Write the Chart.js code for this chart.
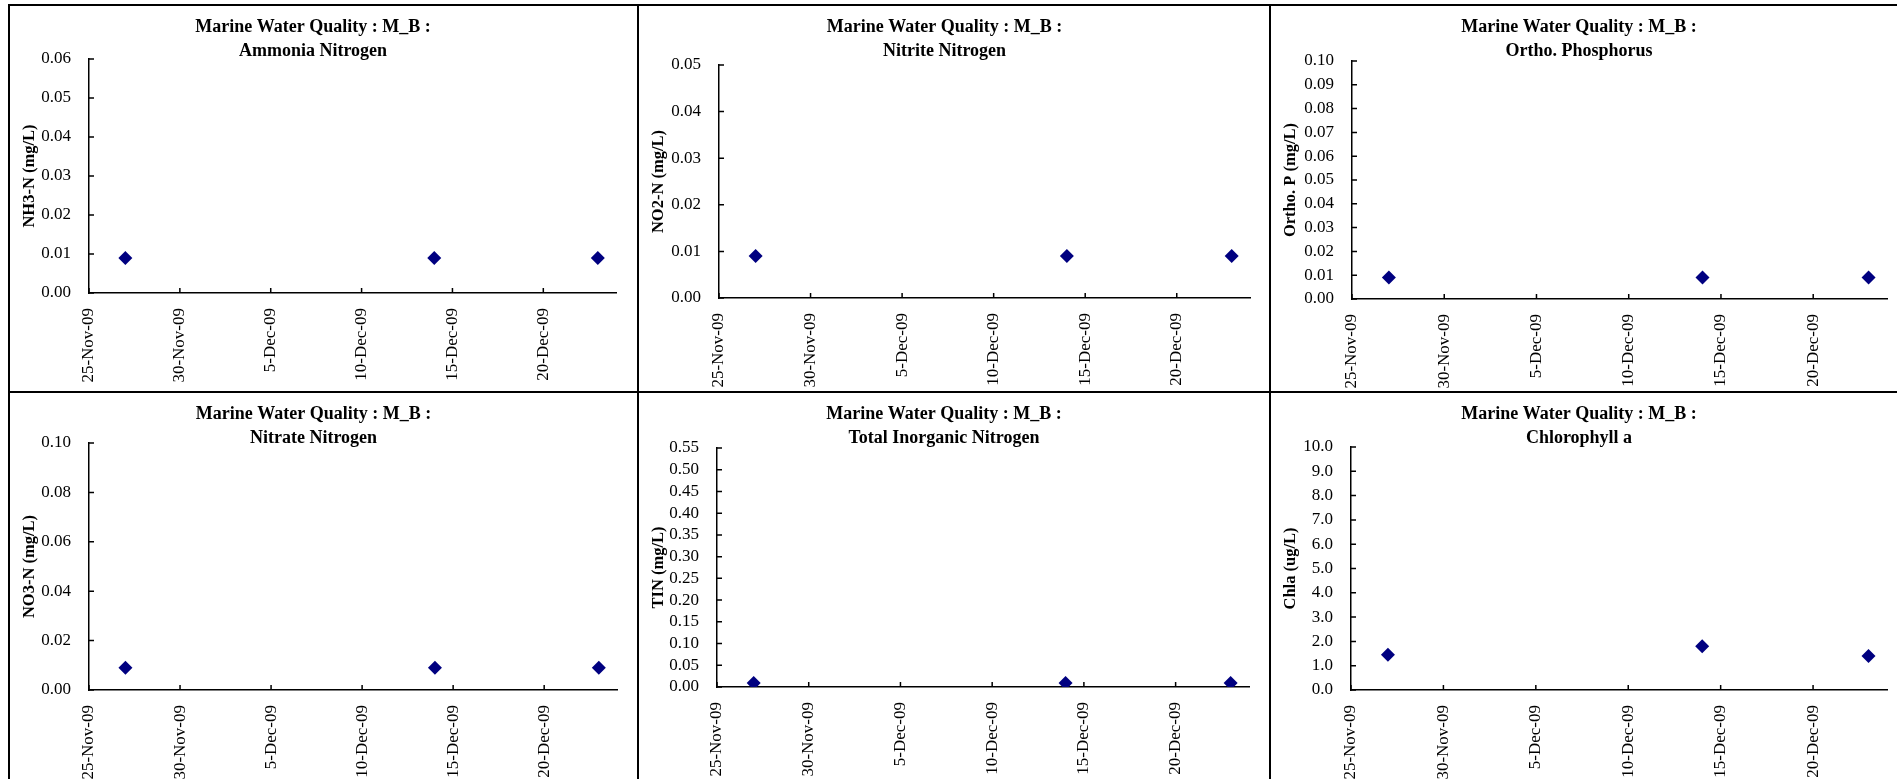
<!DOCTYPE html>
<html>
<head>
<meta charset="utf-8">
<title>Marine Water Quality : M_B</title>
<script src="https://cdn.jsdelivr.net/npm/chart.js@4.4.1/dist/chart.umd.min.js"></script>
<style>
  html, body { margin: 0; padding: 0; background: #fff; overflow: hidden; }
  .panel { position: absolute; box-sizing: border-box; border-left: 2px solid #000; border-top: 2px solid #000; }
  .panel canvas { display: block; }
</style>
</head>
<body>
<div id="panels"></div>
<script>
/* Data */
var sampleDates = ['2009-11-27', '2009-12-14', '2009-12-23'];
var axisStart = '2009-11-25';
var axisEnd = '2009-12-24';
var xTickDates = ['2009-11-25', '2009-11-30', '2009-12-05', '2009-12-10', '2009-12-15', '2009-12-20'];
var xTickLabels = ['25-Nov-09', '30-Nov-09', '5-Dec-09', '10-Dec-09', '15-Dec-09', '20-Dec-09'];

var nh3n = [0.009, 0.009, 0.009];
var no2n = [0.009, 0.009, 0.009];
var orthoP = [0.009, 0.009, 0.009];
var no3n = [0.009, 0.009, 0.009];
var tin = [0.009, 0.009, 0.009];
var chla = [1.45, 1.8, 1.4];

var mainTitle = 'Marine Water Quality : M_B :';
var parameterNames = ['Ammonia Nitrogen', 'Nitrite Nitrogen', 'Ortho. Phosphorus', 'Nitrate Nitrogen', 'Total Inorganic Nitrogen', 'Chlorophyll a'];
var yAxisTitles = ['NH3-N (mg/L)', 'NO2-N (mg/L)', 'Ortho. P (mg/L)', 'NO3-N (mg/L)', 'TIN (mg/L)', 'Chla (ug/L)'];
var yMax = [0.06, 0.05, 0.10, 0.10, 0.55, 10];
var yStep = [0.01, 0.01, 0.01, 0.02, 0.05, 1];
var yDecimals = [2, 2, 2, 2, 2, 1];
var series = [nh3n, no2n, orthoP, no3n, tin, chla];

/* Layout of the 3x2 grid (page pixels) and plot area in each canvas */
var cellLeft = [8, 637, 1269];
var cellWidth = [629, 632, 638];
var cellTop = [4, 391];
var cellHeight = [387, 390];
var plotBox = [
  {left: 79, top: 53, right: 606, bottom: 287},
  {left: 80, top: 59, right: 611, bottom: 292},
  {left: 81, top: 55, right: 616, bottom: 293},
  {left: 79, top: 50, right: 607, bottom: 297},
  {left: 78, top: 55, right: 610, bottom: 294},
  {left: 80, top: 54, right: 616, bottom: 297}
];

var serif = "'Liberation Serif', 'Times New Roman', serif";

function dayOffset(s) {
  return (Date.parse(s) - Date.parse(axisStart)) / 86400000;
}

// tick marks drawn inside the plot, like the Excel original
var innerTicks = {
  id: 'innerTicks',
  afterDraw: function(chart) {
    var ctx = chart.ctx;
    var area = chart.chartArea;
    var xs = chart.scales.x, ys = chart.scales.y;
    ctx.save();
    ctx.strokeStyle = '#000';
    ctx.lineWidth = 1.5;
    ctx.beginPath();
    xs.ticks.forEach(function(t) {
      var px = xs.getPixelForValue(t.value);
      ctx.moveTo(px, area.bottom);
      ctx.lineTo(px, area.bottom - 5);
    });
    ys.ticks.forEach(function(t) {
      var py = ys.getPixelForValue(t.value);
      ctx.moveTo(area.left, py);
      ctx.lineTo(area.left + 5, py);
    });
    ctx.stroke();
    ctx.restore();
  }
};

var holder = document.getElementById('panels');

for (let i = 0; i < series.length; i++) {
  var col = i % 3, row = Math.floor(i / 3);
  var box = plotBox[i];

  var div = document.createElement('div');
  div.className = 'panel';
  div.style.left = cellLeft[col] + 'px';
  div.style.top = cellTop[row] + 'px';
  div.style.width = cellWidth[col] + 'px';
  div.style.height = cellHeight[row] + 'px';
  var canvas = document.createElement('canvas');
  var w = cellWidth[col] - 2, h = cellHeight[row] - 2;
  canvas.width = w;
  canvas.height = h;
  canvas.style.width = w + 'px';
  canvas.style.height = h + 'px';
  div.appendChild(canvas);
  holder.appendChild(div);

  var puntos = [];
  for (let j = 0; j < sampleDates.length; j++) {
    puntos.push({x: dayOffset(sampleDates[j]), y: series[i][j]});
  }

  var titleLine = 18 * 1.3;

  new Chart(canvas.getContext('2d'), {
    type: 'scatter',
    data: {
      datasets: [{
        label: parameterNames[i],
        data: puntos,
        pointStyle: 'rectRot',
        pointRadius: 7,
        pointHoverRadius: 7,
        backgroundColor: '#000080',
        borderColor: '#000080',
        borderWidth: 0
      }]
    },
    options: {
      responsive: false,
      animation: false,
      devicePixelRatio: 1,
      layout: {
        padding: {left: 0, top: 0, bottom: 0, right: w - box.right}
      },
      plugins: {
        legend: { display: false },
        tooltip: { enabled: false },
        title: {
          display: true,
          text: [mainTitle, parameterNames[i]],
          color: '#000',
          font: { family: serif, size: 18, weight: 'bold', lineHeight: 1.3 },
          padding: { top: 10, bottom: box.top - 10 - 2 * titleLine }
        }
      },
      scales: {
        x: {
          type: 'linear',
          min: dayOffset(axisStart),
          max: dayOffset(axisEnd),
          afterBuildTicks: function(scale) {
            scale.ticks = xTickDates.map(function(d) { return {value: dayOffset(d)}; });
          },
          afterFit: (function(hh) {
            return function(scale) { scale.height = hh; };
          })(h - box.bottom),
          grid: { display: false, drawTicks: false },
          border: { display: true, color: '#000', width: 1.5 },
          ticks: {
            autoSkip: false,
            minRotation: 90,
            maxRotation: 90,
            padding: 15,
            color: '#000',
            font: { family: serif, size: 17 },
            callback: function(v) {
              var k = xTickDates.map(dayOffset).indexOf(v);
              return k >= 0 ? xTickLabels[k] : '';
            }
          }
        },
        y: {
          min: 0,
          max: yMax[i],
          afterFit: (function(ww) {
            return function(scale) { scale.width = ww; };
          })(box.left),
          grid: { display: false, drawTicks: false },
          border: { display: true, color: '#000', width: 1.5 },
          title: {
            display: true,
            text: yAxisTitles[i],
            color: '#000',
            font: { family: serif, size: 16.5, weight: 'bold' },
            padding: { top: 10, bottom: 0 }
          },
          ticks: {
            autoSkip: false,
            stepSize: yStep[i],
            maxTicksLimit: 20,
            padding: 18,
            color: '#000',
            font: { family: serif, size: 17 },
            callback: (function(dec) {
              return function(v) { return Number(v).toFixed(dec); };
            })(yDecimals[i])
          }
        }
      }
    },
    plugins: [innerTicks]
  });
}
</script>
</body>
</html>
